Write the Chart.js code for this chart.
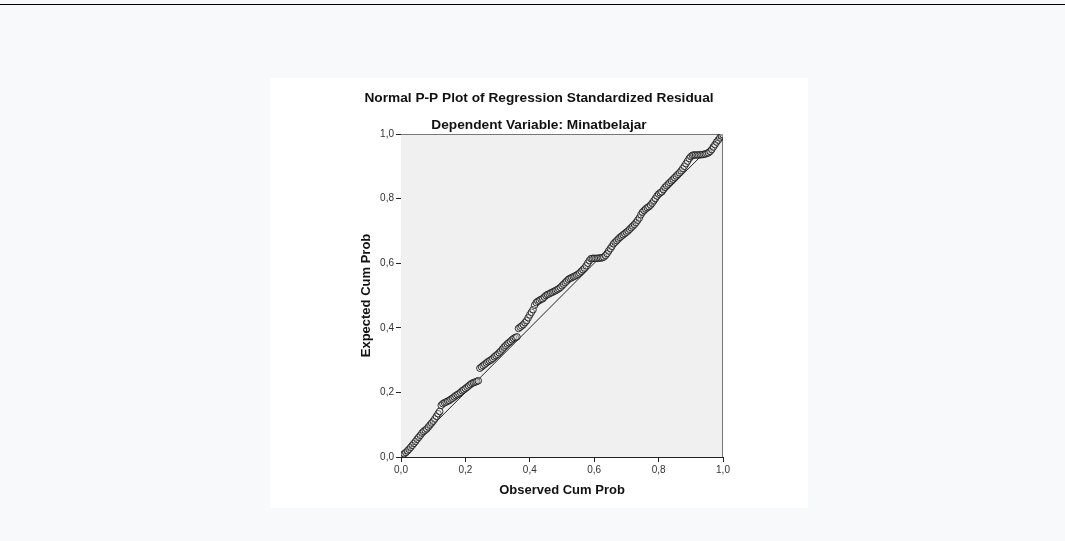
<!DOCTYPE html>
<html>
<head>
<meta charset="utf-8">
<script src="https://cdn.jsdelivr.net/npm/chart.js@4"></script>
<style>
  html, body { margin: 0; padding: 0; }
  body { width: 1065px; height: 541px; background: #f8f9fa; position: relative; overflow: hidden; font-family: "Liberation Sans", Arial, sans-serif; }
  .top-rule { position: absolute; left: 0; top: 4px; width: 1065px; height: 1px; background: #000; }
  .panel { position: absolute; left: 270px; top: 78px; width: 538px; height: 430px; background: #fff; }
  canvas { display: block; }
</style>
</head>
<body>
<div class="top-rule"></div>
<div class="panel">
  <canvas id="pp-chart" width="538" height="430"></canvas>
</div>
<script>
// observed cumulative probability (x) and expected cumulative probability (y)
const observedCum = [
  0.000, 0.005, 0.010, 0.015, 0.020, 0.025, 0.030, 0.035, 0.040, 0.045,
  0.050, 0.055, 0.060, 0.065, 0.070, 0.075, 0.080, 0.085, 0.090, 0.095,
  0.100, 0.105, 0.110, 0.115, 0.120, 0.125, 0.130, 0.135, 0.140, 0.145,
  0.150, 0.155, 0.160, 0.165, 0.170, 0.175, 0.180, 0.185, 0.190, 0.195,
  0.200, 0.205, 0.210, 0.215, 0.220, 0.225, 0.230, 0.235, 0.240, 0.245,
  0.250, 0.255, 0.260, 0.265, 0.270, 0.275, 0.280, 0.285, 0.290, 0.295,
  0.300, 0.305, 0.310, 0.315, 0.320, 0.325, 0.330, 0.335, 0.340, 0.345,
  0.350, 0.355, 0.360, 0.365, 0.370, 0.375, 0.380, 0.385, 0.390, 0.395,
  0.400, 0.405, 0.410, 0.415, 0.420, 0.425, 0.430, 0.435, 0.440, 0.445,
  0.450, 0.455, 0.460, 0.465, 0.470, 0.475, 0.480, 0.485, 0.490, 0.495,
  0.500, 0.505, 0.510, 0.515, 0.520, 0.525, 0.530, 0.535, 0.540, 0.545,
  0.550, 0.555, 0.560, 0.565, 0.570, 0.575, 0.580, 0.585, 0.590, 0.595,
  0.600, 0.605, 0.610, 0.615, 0.620, 0.625, 0.630, 0.635, 0.640, 0.645,
  0.650, 0.655, 0.660, 0.665, 0.670, 0.675, 0.680, 0.685, 0.690, 0.695,
  0.700, 0.705, 0.710, 0.715, 0.720, 0.725, 0.730, 0.735, 0.740, 0.745,
  0.750, 0.755, 0.760, 0.765, 0.770, 0.775, 0.780, 0.785, 0.790, 0.795,
  0.800, 0.805, 0.810, 0.815, 0.820, 0.825, 0.830, 0.835, 0.840, 0.845,
  0.850, 0.855, 0.860, 0.865, 0.870, 0.875, 0.880, 0.885, 0.890, 0.895,
  0.900, 0.905, 0.910, 0.915, 0.920, 0.925, 0.930, 0.935, 0.940, 0.945,
  0.950, 0.955, 0.960, 0.965, 0.970, 0.975, 0.980, 0.985, 0.990, 0.995,
  1.000
];
const expectedCum = [
  0.003, 0.006, 0.010, 0.014, 0.019, 0.024, 0.030, 0.036, 0.042, 0.048,
  0.055, 0.061, 0.067, 0.074, 0.079, 0.083, 0.087, 0.093, 0.099, 0.105,
  0.111, 0.118, 0.126, 0.134, 0.141, 0.160, 0.165, 0.168, 0.170, 0.173,
  0.175, 0.179, 0.182, 0.186, 0.190, 0.193, 0.196, 0.200, 0.205, 0.208,
  0.212, 0.216, 0.220, 0.224, 0.228, 0.230, 0.232, 0.234, 0.236, 0.275,
  0.279, 0.283, 0.287, 0.291, 0.295, 0.298, 0.301, 0.305, 0.310, 0.314,
  0.318, 0.323, 0.328, 0.334, 0.340, 0.345, 0.350, 0.354, 0.358, 0.363,
  0.367, 0.370, 0.372, 0.398, 0.402, 0.406, 0.410, 0.416, 0.422, 0.431,
  0.440, 0.448, 0.456, 0.470, 0.478, 0.482, 0.485, 0.488, 0.490, 0.495,
  0.500, 0.503, 0.505, 0.508, 0.510, 0.513, 0.515, 0.518, 0.521, 0.525,
  0.530, 0.535, 0.540, 0.545, 0.550, 0.553, 0.555, 0.558, 0.560, 0.563,
  0.566, 0.570, 0.575, 0.580, 0.585, 0.592, 0.600, 0.608, 0.614, 0.615,
  0.615, 0.615, 0.615, 0.616, 0.616, 0.617, 0.619, 0.624, 0.630, 0.638,
  0.645, 0.652, 0.660, 0.665, 0.670, 0.675, 0.680, 0.684, 0.688, 0.692,
  0.696, 0.700, 0.705, 0.710, 0.715, 0.720, 0.726, 0.733, 0.740, 0.750,
  0.758, 0.763, 0.768, 0.772, 0.775, 0.780, 0.786, 0.793, 0.800, 0.808,
  0.814, 0.818, 0.821, 0.828, 0.835, 0.840, 0.845, 0.850, 0.855, 0.860,
  0.865, 0.870, 0.875, 0.880, 0.886, 0.893, 0.900, 0.908, 0.916, 0.924,
  0.930, 0.934, 0.935, 0.935, 0.935, 0.935, 0.936, 0.936, 0.937, 0.938,
  0.940, 0.942, 0.946, 0.952, 0.960, 0.967, 0.975, 0.981, 0.988, 0.994,
  0.998
];
const refLineX = [0, 1];
const refLineY = [0, 1];
const tickValues = [0, 0.2, 0.4, 0.6, 0.8, 1.0];

const chartTitle = "Normal P-P Plot of Regression Standardized Residual";
const chartSubtitle = "Dependent Variable: Minatbelajar";

const points = observedCum.map((x, i) => ({ x: x, y: expectedCum[i] }));
const refLine = refLineX.map((x, i) => ({ x: x, y: refLineY[i] }));

// grey plot area with a frame, like the SPSS output
const plotFrame = {
    id: 'plotFrame',
    beforeDatasetsDraw(chart) {
        const a = chart.chartArea;
        const ctx = chart.ctx;
        ctx.save();
        ctx.fillStyle = '#f0f0f0';
        ctx.fillRect(a.left, a.top, a.right - a.left, a.bottom - a.top);
        ctx.strokeStyle = '#777';
        ctx.lineWidth = 1;
        ctx.beginPath();
        ctx.moveTo(a.left, a.top + 0.5);
        ctx.lineTo(a.right - 0.5, a.top + 0.5);
        ctx.lineTo(a.right - 0.5, a.bottom);
        ctx.stroke();
        ctx.restore();
    }
};

// the two title lines, centred on the white panel
const titleLines = {
    id: 'titleLines',
    afterDraw(chart) {
        const ctx = chart.ctx;
        ctx.save();
        ctx.fillStyle = '#111';
        ctx.font = 'bold 13.7px "Liberation Sans", Arial, sans-serif';
        ctx.textAlign = 'center';
        ctx.textBaseline = 'middle';
        ctx.fillText(chartTitle, chart.width / 2, 20);
        ctx.fillText(chartSubtitle, chart.width / 2, 47);
        ctx.restore();
    }
};

const commaLabel = v => v.toFixed(1).replace('.', ',');

const ppCanvas = document.getElementById('pp-chart');
const ppChart = new Chart(ppCanvas, {
    type: 'scatter',
    data: {
        datasets: [{
            data: points,
            pointRadius: 3.3,
            pointBorderWidth: 1,
            pointBorderColor: 'rgba(30,30,30,0.9)',
            pointBackgroundColor: 'rgba(245,245,245,0.3)',
            showLine: false,
            order: 1
        }, {
            data: refLine,
            showLine: true,
            borderColor: '#222',
            borderWidth: 1,
            pointRadius: 0,
            order: 2
        }]
    },
    options: {
        responsive: false,
        animation: false,
        layout: {
            padding: { left: 0, right: 85, top: 56, bottom: 0 }
        },
        plugins: {
            legend: { display: false },
            tooltip: { enabled: false },
            title: { display: false }
        },
        scales: {
            x: {
                type: 'linear',
                min: 0,
                max: 1,
                afterBuildTicks: s => { s.ticks = tickValues.map(v => ({ value: v })); },
                ticks: {
                    callback: commaLabel,
                    color: '#333',
                    font: { family: 'Liberation Sans', size: 10 },
                    padding: 2,
                    maxRotation: 0
                },
                grid: { drawOnChartArea: false, tickLength: 5, color: '#222' },
                border: { display: true, color: '#222', width: 1 },
                title: {
                    display: true,
                    text: 'Observed Cum Prob',
                    color: '#111',
                    font: { family: 'Liberation Sans', size: 13, weight: 'bold', lineHeight: 1.2 },
                    padding: { top: 0, bottom: 10 }
                },
                afterFit: s => { s.height = 51; }
            },
            y: {
                type: 'linear',
                min: 0,
                max: 1,
                afterBuildTicks: s => { s.ticks = tickValues.map(v => ({ value: v })); },
                ticks: {
                    callback: commaLabel,
                    color: '#333',
                    font: { family: 'Liberation Sans', size: 10 },
                    padding: 2
                },
                grid: { drawOnChartArea: false, tickLength: 5, color: '#222' },
                border: { display: true, color: '#222', width: 1 },
                title: {
                    display: true,
                    text: 'Expected Cum Prob',
                    color: '#111',
                    font: { family: 'Liberation Sans', size: 13, weight: 'bold', lineHeight: 1.2 },
                    padding: { top: 89, bottom: 0 }
                },
                afterFit: s => { s.width = 131; }
            }
        }
    },
    plugins: [plotFrame, titleLines]
});
</script>
</body>
</html>
